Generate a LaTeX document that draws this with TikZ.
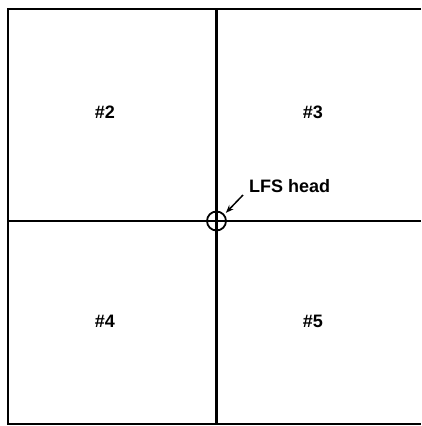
\documentclass[tikz,border=0pt]{standalone}
\usepackage{fontspec}
\setmainfont{Liberation Sans}
\usetikzlibrary{arrows.meta}
\begin{document}
\begin{tikzpicture}[x=1pt, y=-1pt,
    zone/.style={font=\bfseries\fontsize{18}{21}\selectfont},
    gridline/.style={line width=2.4pt}]
    \useasboundingbox (0,0) rectangle (421,426);

    % Frame and dividing lines
    \draw[gridline] (421,9) -- (8,9) -- (8,424) -- (421,424);
    \draw[gridline] (216.5,9) -- (216.5,424);
    \draw[gridline] (8,221) -- (421,221);

    % Zone numbers
    \node[zone] (z2) at (105,112) {\#2};
    \node[zone] (z3) at (313,112) {\#3};
    \node[zone] (z4) at (105,321) {\#4};
    \node[zone] (z5) at (313,321) {\#5};

    % Head position
    \node[circle, draw, line width=1.8pt, minimum size=19pt, inner sep=0pt] (head) at (216.5,221) {};
    \node[zone, anchor=west, inner sep=0pt] (lfs) at (249,186) {LFS head};
    \draw[line width=1.5pt, -{Stealth[length=8pt,width=6pt]}, shorten >=2pt]
        ([xshift=-6pt,yshift=-9pt]lfs.west) -- (head.40);

\end{tikzpicture}
\end{document}
